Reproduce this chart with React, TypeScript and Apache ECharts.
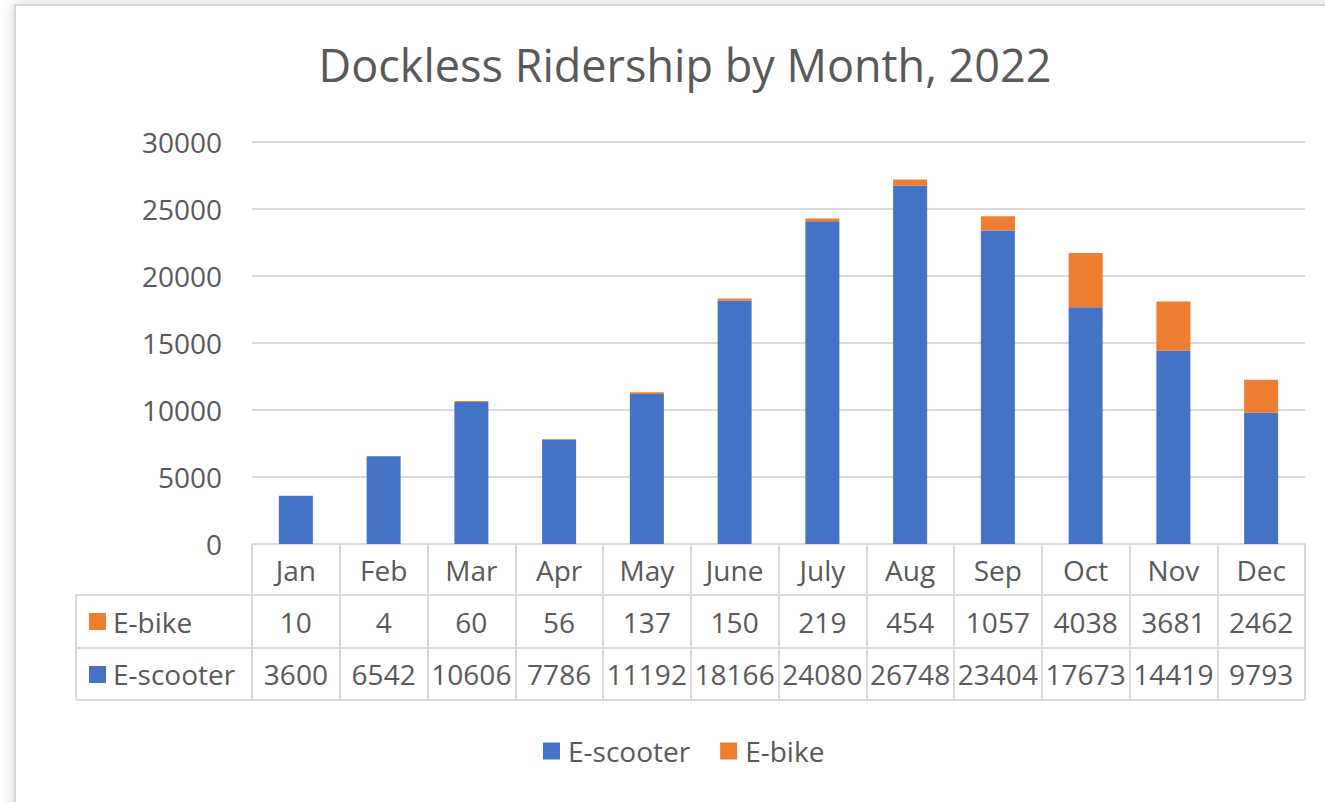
import React, { useEffect, useRef } from "react";
import * as echarts from "echarts";

const months = ["Jan", "Feb", "Mar", "Apr", "May", "June", "July", "Aug", "Sep", "Oct", "Nov", "Dec"];
const eScooter = [3600, 6542, 10606, 7786, 11192, 18166, 24080, 26748, 23404, 17673, 14419, 9793];
const eBike = [10, 4, 60, 56, 137, 150, 219, 454, 1057, 4038, 3681, 2462];
const yTicks = [0, 5000, 10000, 15000, 20000, 25000, 30000];

const BLUE = "#4472C4";
const ORANGE = "#ED7D31";
const TEXT = "#595959";
const LINE = "#d9d9d9";
const FONT = "Open Sans";
const FS = 28;

const GRID_LEFT = 252;
const GRID_RIGHT_X = 1305;
const GRID_TOP = 142;
const GRID_BOTTOM_Y = 544;
const ROW1 = 595;
const ROW2 = 648;
const ROW3 = 700;
const TABLE_LEFT = 76;

export default function App() {
  const ref = useRef<HTMLDivElement>(null);
  useEffect(() => {
    if (!ref.current) return;
    const chart = echarts.init(ref.current, undefined, { renderer: "svg" });
    const tableAxis = (offset: number, rowH: number, labels: (string | number)[]) => ({
      type: "category",
      gridIndex: 0,
      position: "bottom",
      offset,
      data: months,
      boundaryGap: true,
      axisLine: { show: true, lineStyle: { color: LINE, width: 2 } },
      axisTick: { show: true, interval: 0, length: rowH, lineStyle: { color: LINE, width: 2 } },
      axisLabel: {
        interval: 0,
        margin: rowH / 2,
        verticalAlign: "middle",
        color: TEXT,
        fontSize: FS,
        fontFamily: FONT,
        formatter: (_v: string, i: number) => String(labels[i]),
      },
      splitLine: { show: false },
    });
    chart.setOption({
      animation: false,
      backgroundColor: "#ffffff",
      title: {
        text: "Dockless Ridership by Month, 2022",
        left: 680,
        top: 37,
        textAlign: "center",
        textStyle: { color: TEXT, fontSize: 45, fontWeight: "normal", fontFamily: FONT },
      },
      legend: {
        data: ["E-scooter", "E-bike"],
        left: 538,
        top: 732,
        icon: "rect",
        itemWidth: 17,
        itemHeight: 17,
        itemGap: 30,
        textStyle: { color: TEXT, fontSize: FS, fontFamily: FONT, padding: [0, 0, 0, 3] },
      },
      grid: {
        left: GRID_LEFT,
        right: 1325 - GRID_RIGHT_X,
        top: GRID_TOP,
        bottom: 802 - GRID_BOTTOM_Y,
        containLabel: false,
      },
      xAxis: [
        tableAxis(0, ROW1 - GRID_BOTTOM_Y, months),
        tableAxis(ROW1 - GRID_BOTTOM_Y, ROW2 - ROW1, eBike),
        tableAxis(ROW2 - GRID_BOTTOM_Y, ROW3 - ROW2, eScooter),
      ],
      yAxis: {
        type: "value",
        min: yTicks[0],
        max: yTicks[yTicks.length - 1],
        interval: 5000,
        axisLine: { show: false },
        axisTick: { show: false },
        axisLabel: { color: TEXT, fontSize: FS, fontFamily: FONT, margin: 30, formatter: (v: number) => String(v) },
        splitLine: { show: true, lineStyle: { color: LINE, width: 2 } },
      },
      series: [
        {
          name: "E-scooter",
          type: "bar",
          stack: "total",
          xAxisIndex: 0,
          barWidth: 34,
          itemStyle: { color: BLUE },
          data: eScooter,
        },
        {
          name: "E-bike",
          type: "bar",
          stack: "total",
          xAxisIndex: 0,
          barWidth: 34,
          itemStyle: { color: ORANGE },
          data: eBike,
        },
      ],
      graphic: [
        {
          type: "rect",
          z: -10,
          silent: true,
          shape: { x: 15, y: 5, width: 1400, height: 900 },
          style: { fill: "#ffffff", stroke: "#d6d6d6", lineWidth: 2, shadowBlur: 14, shadowColor: "rgba(0,0,0,0.18)" },
        },
        { type: "line", shape: { x1: TABLE_LEFT, y1: ROW1, x2: GRID_LEFT, y2: ROW1 }, style: { stroke: LINE, lineWidth: 2 } },
        { type: "line", shape: { x1: TABLE_LEFT, y1: ROW2, x2: GRID_LEFT, y2: ROW2 }, style: { stroke: LINE, lineWidth: 2 } },
        { type: "line", shape: { x1: TABLE_LEFT, y1: ROW3, x2: GRID_RIGHT_X, y2: ROW3 }, style: { stroke: LINE, lineWidth: 2 } },
        { type: "line", shape: { x1: TABLE_LEFT, y1: ROW1, x2: TABLE_LEFT, y2: ROW3 }, style: { stroke: LINE, lineWidth: 2 } },
        { type: "rect", shape: { x: 89, y: 613, width: 17, height: 17 }, style: { fill: ORANGE } },
        { type: "rect", shape: { x: 89, y: 666, width: 17, height: 17 }, style: { fill: BLUE } },
        {
          type: "text",
          x: 113,
          y: (ROW1 + ROW2) / 2,
          style: { text: "E-bike", fill: TEXT, fontSize: FS, fontFamily: FONT, verticalAlign: "middle" },
        },
        {
          type: "text",
          x: 113,
          y: (ROW2 + ROW3) / 2,
          style: { text: "E-scooter", fill: TEXT, fontSize: FS, fontFamily: FONT, verticalAlign: "middle" },
        },
      ],
    });
    return () => chart.dispose();
  }, []);
  return <div ref={ref} style={{ position: "absolute", left: 0, top: 0, width: 1325, height: 802 }} />;
}
